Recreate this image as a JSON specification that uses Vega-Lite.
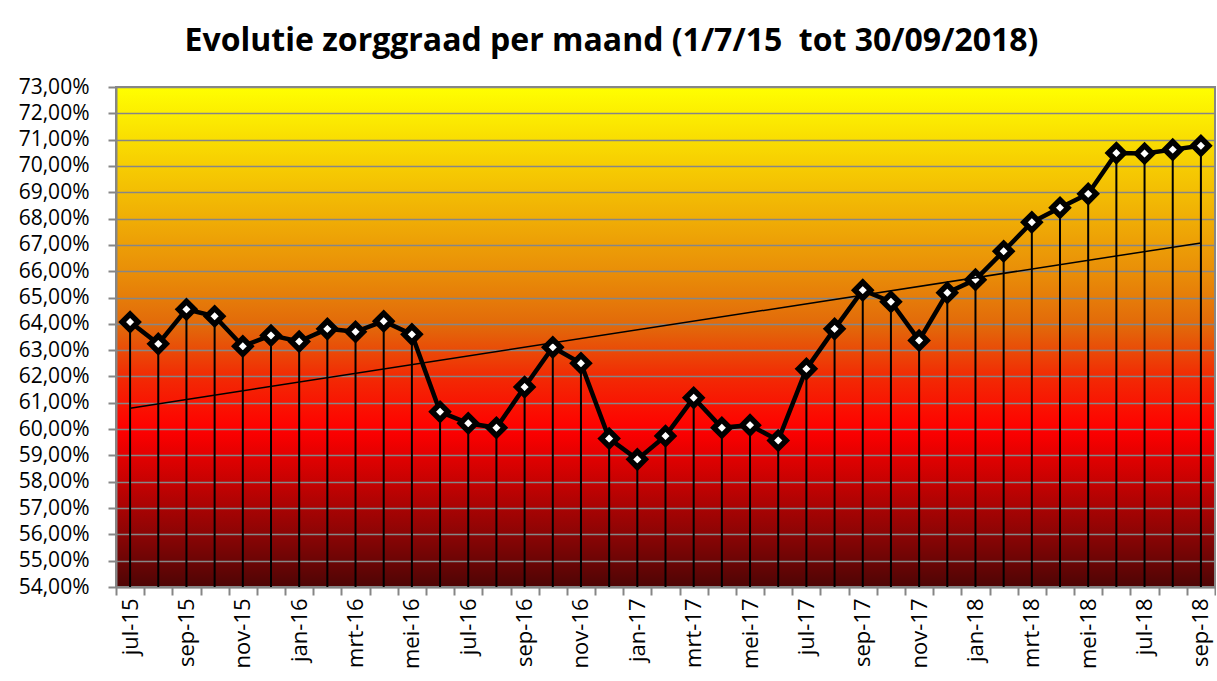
{
  "$schema": "https://vega.github.io/schema/vega-lite/v6.json",
  "autosize": {"type": "none"},
  "padding": {"left": 116, "top": 87, "right": 1, "bottom": 94},
  "width": 1099,
  "height": 500,
  "background": "white",
  "title": {
    "text": "Evolutie zorggraad per maand (1/7/15\u00a0 tot 30/09/2018)",
    "font": "Open Sans",
    "fontSize": 32,
    "fontWeight": "bold",
    "color": "black",
    "anchor": "middle",
    "dx": -54,
    "offset": 18
  },
  "view": {
    "stroke": "#868686",
    "strokeWidth": 2,
    "fill": {
      "gradient": "linear",
      "x1": 0, "y1": 0, "x2": 0, "y2": 1,
      "stops": [
        {"offset": 0, "color": "#ffff00"},
        {"offset": 0.16, "color": "#f6cc02"},
        {"offset": 0.37, "color": "#e98e08"},
        {"offset": 0.48, "color": "#e2680a"},
        {"offset": 0.58, "color": "#f22a04"},
        {"offset": 0.685, "color": "#ff0000"},
        {"offset": 0.8, "color": "#c00202"},
        {"offset": 0.9, "color": "#880505"},
        {"offset": 1, "color": "#4e0505"}
      ]
    }
  },
  "data": {
    "values": [
      {"maand": "jul-15", "n": 1, "pct": 0.6407},
      {"maand": "aug-15", "n": 2, "pct": 0.6324},
      {"maand": "sep-15", "n": 3, "pct": 0.6455},
      {"maand": "okt-15", "n": 4, "pct": 0.6429},
      {"maand": "nov-15", "n": 5, "pct": 0.6315},
      {"maand": "dec-15", "n": 6, "pct": 0.6356},
      {"maand": "jan-16", "n": 7, "pct": 0.6333},
      {"maand": "feb-16", "n": 8, "pct": 0.6381},
      {"maand": "mrt-16", "n": 9, "pct": 0.6370},
      {"maand": "apr-16", "n": 10, "pct": 0.6410},
      {"maand": "mei-16", "n": 11, "pct": 0.6360},
      {"maand": "jun-16", "n": 12, "pct": 0.6066},
      {"maand": "jul-16", "n": 13, "pct": 0.6022},
      {"maand": "aug-16", "n": 14, "pct": 0.6005},
      {"maand": "sep-16", "n": 15, "pct": 0.6160},
      {"maand": "okt-16", "n": 16, "pct": 0.6311},
      {"maand": "nov-16", "n": 17, "pct": 0.6250},
      {"maand": "dec-16", "n": 18, "pct": 0.5964},
      {"maand": "jan-17", "n": 19, "pct": 0.5885},
      {"maand": "feb-17", "n": 20, "pct": 0.5974},
      {"maand": "mrt-17", "n": 21, "pct": 0.6119},
      {"maand": "apr-17", "n": 22, "pct": 0.6005},
      {"maand": "mei-17", "n": 23, "pct": 0.6015},
      {"maand": "jun-17", "n": 24, "pct": 0.5957},
      {"maand": "jul-17", "n": 25, "pct": 0.6229},
      {"maand": "aug-17", "n": 26, "pct": 0.6381},
      {"maand": "sep-17", "n": 27, "pct": 0.6528},
      {"maand": "okt-17", "n": 28, "pct": 0.6484},
      {"maand": "nov-17", "n": 29, "pct": 0.6337},
      {"maand": "dec-17", "n": 30, "pct": 0.6518},
      {"maand": "jan-18", "n": 31, "pct": 0.6568},
      {"maand": "feb-18", "n": 32, "pct": 0.6676},
      {"maand": "mrt-18", "n": 33, "pct": 0.6786},
      {"maand": "apr-18", "n": 34, "pct": 0.6841},
      {"maand": "mei-18", "n": 35, "pct": 0.6894},
      {"maand": "jun-18", "n": 36, "pct": 0.7049},
      {"maand": "jul-18", "n": 37, "pct": 0.7047},
      {"maand": "aug-18", "n": 38, "pct": 0.7062},
      {"maand": "sep-18", "n": 39, "pct": 0.7077}
    ]
  },
  "config": {
    "font": "Open Sans",
    "axis": {
      "labelFont": "Open Sans",
      "labelFontSize": 21,
      "labelColor": "black",
      "domainColor": "#868686",
      "domainWidth": 2,
      "tickColor": "#868686",
      "tickWidth": 2,
      "tickSize": 8,
      "title": null
    }
  },
  "encoding": {
    "y": {
      "field": "pct",
      "type": "quantitative",
      "scale": {"domain": [0.54, 0.73], "nice": false, "zero": false},
      "axis": {
        "values": [0.54, 0.55, 0.56, 0.57, 0.58, 0.59, 0.6, 0.61, 0.62, 0.63, 0.64, 0.65, 0.66, 0.67, 0.68, 0.69, 0.7, 0.71, 0.72, 0.73],
        "labelExpr": "replace(format(datum.value, '.2%'), '.', ',')",
        "labelOverlap": false,
        "labelFlush": false,
        "labelPadding": 19,
        "grid": true,
        "gridColor": "#868686",
        "gridWidth": 1.6,
        "gridOpacity": 1
      }
    }
  },
  "resolve": {"scale": {"x": "independent"}, "axis": {"x": "independent"}},
  "layer": [
    {
      "encoding": {
        "x": {
          "field": "maand",
          "type": "ordinal",
          "sort": null,
          "scale": {"type": "band", "paddingInner": 0, "paddingOuter": 0},
          "axis": {
            "orient": "bottom",
            "labelAngle": -90,
            "labelPadding": 3,
            "labelFontSize": 22,
            "labelOverlap": false,
            "tickBand": "extent",
            "grid": false,
            "labelExpr": "indexof(['jul','sep','nov','jan','mrt','mei'], split(datum.value, '-')[0]) >= 0 ? datum.value : ''"
          }
        }
      },
      "layer": [
        {
          "mark": {"type": "rule", "color": "black", "strokeWidth": 2},
          "encoding": {"y2": {"datum": 0.54}}
        },
        {
          "mark": {"type": "line", "color": "black", "strokeWidth": 4.5}
        },
        {
          "mark": {"type": "point", "shape": "diamond", "size": 250, "filled": true, "fill": "white", "stroke": "black", "strokeWidth": 5.5, "opacity": 1}
        }
      ]
    },
    {
      "transform": [{"regression": "pct", "on": "n"}],
      "mark": {"type": "line", "color": "black", "strokeWidth": 1.5},
      "encoding": {
        "x": {"field": "n", "type": "quantitative", "scale": {"domain": [0.5, 39.5], "nice": false, "zero": false}, "axis": null}
      }
    }
  ]
}
